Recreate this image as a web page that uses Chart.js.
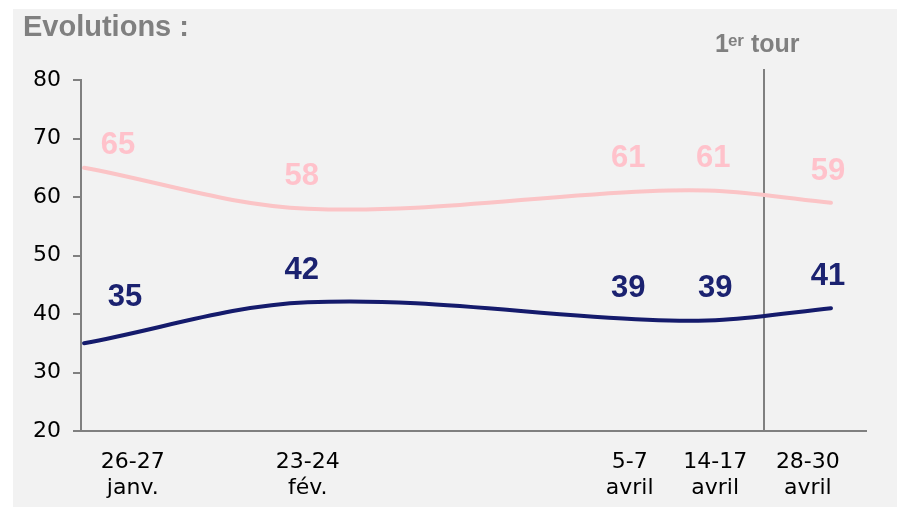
<!DOCTYPE html>
<html lang="fr">
<head>
<meta charset="UTF-8">
<title>Evolutions</title>
<script src="https://cdn.jsdelivr.net/npm/chart.js@4"></script>
<style>
  html, body { margin: 0; padding: 0; background: #fff; }
  canvas { display: block; }
</style>
</head>
<body>
<canvas id="evol" width="897" height="507"></canvas>
<script>
// vagues d'enquête : jour de l'année 2012 (milieu de la période de terrain)
const surveyDays = [26.5, 54.5, 97, 106.5, 120];
const waveLabels = [['26-27', 'janv.'], ['23-24', 'fév.'], ['5-7', 'avril'], ['14-17', 'avril'], ['28-30', 'avril']];
const waveLabelDays = [32.6, 54.5, 94.8, 105.5, 117.1];
const pinkValues = [65, 58, 61, 61, 59];
const navyValues = [35, 42, 39, 39, 41];
const yTicks = [20, 30, 40, 50, 60, 70, 80];
const firstRoundDay = 111.6;

const GREY = '#808080';

// fond gris + titre
const panelPlugin = {
  id: 'panel',
  beforeDraw(chart) {
    const ctx = chart.ctx;
    ctx.save();
    ctx.fillStyle = '#f2f2f2';
    ctx.fillRect(13, 9, chart.width - 13, chart.height - 9);
    ctx.fillStyle = GREY;
    ctx.font = 'bold 29px "Liberation Sans", Arial, sans-serif';
    ctx.textBaseline = 'alphabetic';
    ctx.fillText('Evolutions :', 23, 36);
    ctx.restore();
  }
};

// trait vertical du 1er tour
const tourPlugin = {
  id: 'tour',
  beforeDatasetsDraw(chart) {
    const ctx = chart.ctx;
    const x = Math.round(chart.scales.x.getPixelForValue(firstRoundDay));
    ctx.save();
    ctx.strokeStyle = GREY;
    ctx.lineWidth = 2;
    ctx.beginPath();
    ctx.moveTo(x, 69);
    ctx.lineTo(x, chart.chartArea.bottom);
    ctx.stroke();

    ctx.fillStyle = GREY;
    ctx.textBaseline = 'alphabetic';
    let tx = 715;
    ctx.font = 'bold 25px "Liberation Sans", Arial, sans-serif';
    ctx.fillText('1', tx, 52);
    tx += ctx.measureText('1').width - 1;
    ctx.font = 'bold 17px "Liberation Sans", Arial, sans-serif';
    ctx.fillText('er', tx, 46);
    tx += ctx.measureText('er').width;
    ctx.font = 'bold 25px "Liberation Sans", Arial, sans-serif';
    ctx.fillText(' tour', tx, 52);
    ctx.restore();
  }
};

// valeurs au-dessus des courbes
const valueLabels = {
  id: 'valueLabels',
  afterDatasetsDraw(chart) {
    const ctx = chart.ctx;
    ctx.save();
    ctx.font = 'bold 31px "Liberation Sans", Arial, sans-serif';
    ctx.textAlign = 'center';
    ctx.textBaseline = 'alphabetic';
    chart.data.datasets.forEach((ds, di) => {
      ctx.fillStyle = ds.labelColor;
      chart.getDatasetMeta(di).data.forEach((pt, i) => {
        const cy = pt.y + ds.labelDy[i];
        ctx.fillText(String(ds.data[i].y), pt.x + ds.labelDx[i], cy + 31 * 0.358);
      });
    });
    ctx.restore();
  }
};

new Chart(document.getElementById('evol'), {
  type: 'line',
  data: {
    datasets: [
      {
        data: surveyDays.map((d, i) => ({ x: d, y: pinkValues[i] })),
        borderColor: '#fbc4c6',
        labelColor: '#ffc2cb',
        labelDx: [34, -6, -19, -10, -3],
        labelDy: [-25, -35, -35, -35, -34]
      },
      {
        data: surveyDays.map((d, i) => ({ x: d, y: navyValues[i] })),
        borderColor: '#151b6c',
        labelColor: '#1b2270',
        labelDx: [41, -6, -19, -8, -3],
        labelDy: [-48, -34, -34, -34, -34]
      }
    ]
  },
  options: {
    responsive: false,
    animation: false,
    layout: { padding: { top: 80, right: 31, left: 0, bottom: 0 } },
    plugins: { legend: { display: false }, tooltip: { enabled: false } },
    elements: {
      point: { radius: 0 },
      line: { tension: 0.35, borderWidth: 4, borderCapStyle: 'round', fill: false }
    },
    scales: {
      x: {
        type: 'linear',
        min: 26.12,
        max: 124.38,
        afterBuildTicks: s => { s.ticks = waveLabelDays.map(v => ({ value: v })); },
        afterFit: s => { s.height = 76; },
        ticks: {
          autoSkip: false,
          maxRotation: 0,
          padding: 19,
          color: '#000',
          font: { family: '"DejaVu Sans", Verdana, sans-serif', size: 22, lineHeight: 1.15 },
          callback: (v, i) => waveLabels[i]
        },
        grid: { display: false, drawTicks: false },
        border: { display: true, color: GREY, width: 2 }
      },
      y: {
        min: 20,
        max: 80,
        afterBuildTicks: s => { s.ticks = yTicks.map(v => ({ value: v })); },
        afterFit: s => { s.width = 81; },
        ticks: {
          padding: 12,
          color: '#000',
          font: { family: '"DejaVu Sans", Verdana, sans-serif', size: 22 }
        },
        grid: { drawOnChartArea: false, drawTicks: true, tickLength: 8, color: GREY, lineWidth: 2 },
        border: { display: true, color: GREY, width: 2 }
      }
    }
  },
  plugins: [panelPlugin, tourPlugin, valueLabels]
});
</script>
</body>
</html>
